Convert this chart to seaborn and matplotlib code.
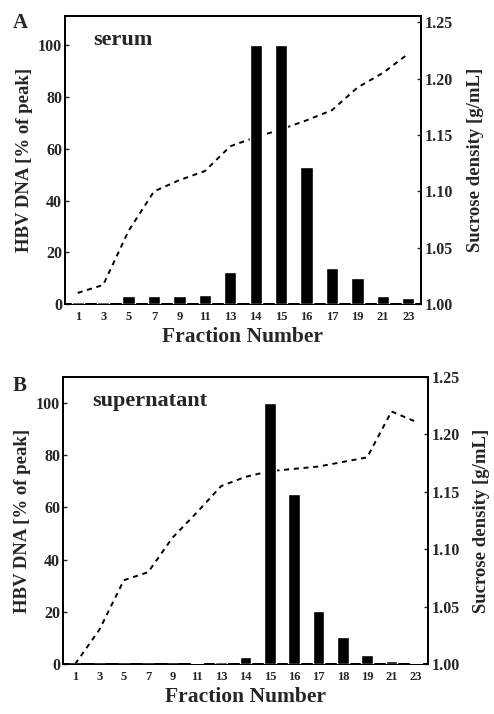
import matplotlib
matplotlib.use("Agg")
import matplotlib.pyplot as plt
import seaborn as sns
import pandas as pd
import numpy as np

# Panel A (serum)
fractions_a = ["1", "3", "5", "7", "9", "11", "13", "14", "15", "16", "17", "19", "21", "23"]
dna_a = [1, 1, 3, 3, 3, 3.5, 12.5, 100, 100, 53, 14, 10, 3, 2.5]
density_a = [1.010, 1.017, 1.065, 1.100, 1.110, 1.118, 1.140, 1.148, 1.155, 1.163, 1.172, 1.192, 1.205, 1.222]

# Panel B (supernatant)
fractions_b = ["1", "3", "5", "7", "9", "11", "13", "14", "15", "16", "17", "18", "19", "21", "23"]
dna_b = [0, 0, 0, 0, 0, 0.3, 0.8, 2.5, 100, 65, 20.5, 10.5, 3.5, 1.2, 0.3]
density_b = [1.000, 1.030, 1.073, 1.080, 1.110, 1.132, 1.155, 1.163, 1.168, 1.170, 1.172, 1.176, 1.180, 1.220, 1.211]

left_ticks = [0, 20, 40, 60, 80, 100]
right_ticks = [1.00, 1.05, 1.10, 1.15, 1.20, 1.25]

sns.set_theme(style="ticks")
plt.rcParams['font.family'] = ['Liberation Serif', 'DejaVu Serif']
plt.rcParams['font.weight'] = 'bold'

fig = plt.figure(figsize=(4.94, 7.14), dpi=100)

def panel(rect, fr, dna, dens, letter, name, ylim_top, rtop, rpad, letter_y):
    ax = fig.add_axes(rect)
    df = pd.DataFrame({"Fraction": fr, "DNA": dna, "Density": dens})
    ax2 = ax.twinx()
    sns.pointplot(data=df, x="Fraction", y="Density", order=fr, ax=ax2, color="black",
                  markers="", linestyles="--", errorbar=None)
    for l in ax2.lines:
        l.set_linewidth(1.4)
        l.set_dashes((2.6, 2.4))
    sns.barplot(data=df, x="Fraction", y="DNA", order=fr, ax=ax, color="black",
                width=0.48, saturation=1, errorbar=None, zorder=3)
    ax.set_zorder(ax2.get_zorder() + 1)
    ax.patch.set_visible(False)
    ax.set_xlim(-0.5, len(fr) - 0.5)
    ax2.set_xlim(-0.5, len(fr) - 0.5)
    ax.set_ylim(0, ylim_top)
    ax2.set_ylim(1.0, rtop)
    ax.set_yticks(left_ticks)
    ax.set_yticklabels([str(t) for t in left_ticks], fontsize=11.5, fontweight='bold')
    ax2.set_yticks(right_ticks)
    ax2.set_yticklabels([f"{t:.2f}" for t in right_ticks], fontsize=11.5, fontweight='bold')
    ax.set_xticks(range(len(fr)))
    ax.set_xticklabels(fr, fontsize=9, fontweight='bold')
    ax.tick_params(axis='x', length=0, pad=5)
    ax.tick_params(axis='y', direction='in', length=3, width=1, pad=2)
    ax2.tick_params(axis='y', direction='in', length=3, width=1, pad=3)
    ax.set_xlabel("Fraction Number", fontsize=15.5, fontweight='bold', labelpad=3)
    ax.set_ylabel("HBV DNA [% of peak]", fontsize=13.5, fontweight='bold', labelpad=4)
    ax2.set_ylabel("Sucrose density [g/mL]", fontsize=13.5, fontweight='bold', labelpad=rpad)
    for a in (ax, ax2):
        for s in a.spines.values():
            s.set_visible(True)
            s.set_linewidth(1.4)
            s.set_color("black")
    ax.text(0.08, 0.95, name, transform=ax.transAxes, fontsize=16, fontweight='bold',
            ha='left', va='top')
    fig.text(13 / 494, 1 - letter_y / 714, letter, fontsize=15, fontweight='bold',
             ha='left', va='top')
    return ax, ax2

panel([0.1316, 0.574, 0.7206, 0.4036], fractions_a, dna_a, density_a, "A", "serum",
      111.2, 1.2555, 10, 13)
panel([0.1275, 0.070, 0.7389, 0.402], fractions_b, dna_b, density_b, "B", "supernatant",
      110.0, 1.25, 9, 376)

fig.savefig("out.png", dpi=100)
